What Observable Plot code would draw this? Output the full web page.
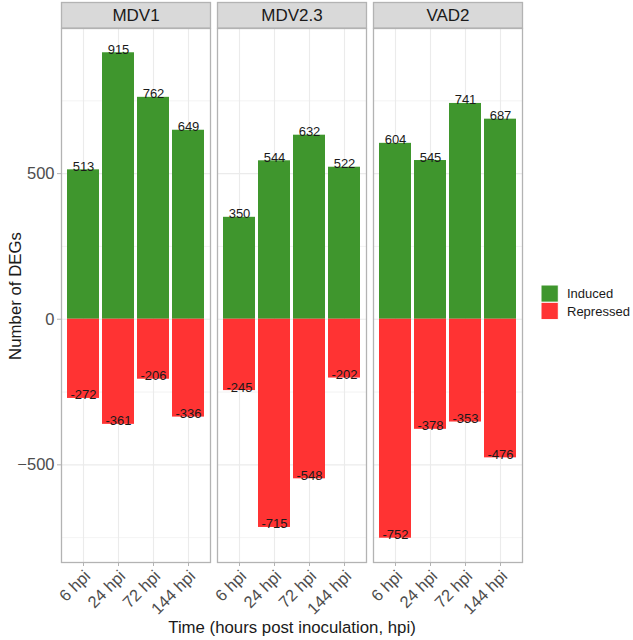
<!DOCTYPE html>
<html>
<head>
<meta charset="utf-8">
<script src="https://cdn.jsdelivr.net/npm/d3@7"></script>
<script src="https://cdn.jsdelivr.net/npm/@observablehq/plot@0.6"></script>
<style>
  html, body { margin: 0; padding: 0; background: #fff; }
  #chart { width: 633px; height: 640px; }
  #chart svg { font-family: "Liberation Sans", Arial, sans-serif; }
</style>
</head>
<body>
<div id="chart"></div>
<script>
// Differentially expressed genes per virus and time point
const viruses = ["MDV1", "MDV2.3", "VAD2"];
const times = ["6 hpi", "24 hpi", "72 hpi", "144 hpi"];
const regulation = ["Induced", "Repressed"];
const regulationColors = ["#3f962d", "#ff3333"];

const inducedMDV1 = [513, 915, 762, 649];
const inducedMDV23 = [350, 544, 632, 522];
const inducedVAD2 = [604, 545, 741, 687];

const repressedMDV1 = [-272, -361, -206, -336];
const repressedMDV23 = [-245, -715, -548, -202];
const repressedVAD2 = [-752, -378, -353, -476];

const yTicks = [-500, 0, 500];
const yMinorTicks = [-750, -250, 250, 750];

const induced = [inducedMDV1, inducedMDV23, inducedVAD2];
const repressed = [repressedMDV1, repressedMDV23, repressedVAD2];

const rows = [];
viruses.forEach((virus, i) => {
  times.forEach((time, j) => {
    rows.push({virus, time, type: "Induced", value: induced[i][j]});
    rows.push({virus, time, type: "Repressed", value: repressed[i][j]});
  });
});

// y extent padded by 5% on each side
const [lo, hi] = d3.extent(rows, d => d.value);
const pad = (hi - lo) * 0.05;

const gridColor = "#ebebeb";
const borderColor = "#b3b3b3";
const textColor = "#4d4d4d";

const plot = Plot.plot({
  width: 633,
  height: 640,
  marginLeft: 61,
  marginRight: 111,
  marginTop: 28,
  marginBottom: 78,
  style: {fontFamily: "Liberation Sans, Arial, sans-serif", background: "#fff"},
  fx: {domain: viruses, paddingInner: 0.045, paddingOuter: 0, axis: null, label: null},
  x: {domain: times, paddingInner: 0.1, paddingOuter: 0.15, label: null, axis: null},
  y: {domain: [lo - pad, hi + pad], label: null, axis: null},
  color: {domain: regulation, range: regulationColors},
  marks: [
    Plot.gridY({ticks: yMinorTicks, stroke: gridColor, strokeOpacity: 1, strokeWidth: 0.6}),
    Plot.gridY({ticks: yTicks, stroke: gridColor, strokeOpacity: 1, strokeWidth: 1.1}),
    Plot.gridX({stroke: gridColor, strokeOpacity: 1, strokeWidth: 1.1}),
    Plot.barY(rows, {fx: "virus", x: "time", y1: 0, y2: "value", fill: "type"}),
    Plot.text(rows, {
      fx: "virus", x: "time", y: "value", text: d => String(d.value),
      lineAnchor: "bottom", dy: 1, fontSize: 13, fill: "#1a1a1a"
    }),
    Plot.frame({stroke: borderColor, strokeWidth: 1.3}),
    Plot.axisY({
      ticks: yTicks, tickSize: 4, tickPadding: 3, fontSize: 16.5,
      stroke: borderColor, fill: textColor, label: null
    }),
    // x tick marks
    Plot.axisX({tickSize: 4, text: null, stroke: borderColor, label: null}),
    // x tick labels, rotated and hanging below the ticks
    Plot.axisX({
      tickSize: 0, tickPadding: 7, tickRotate: -45, fontSize: 16.5,
      dx: 4, dy: 4, fill: textColor, label: null
    })
  ]
});

document.getElementById("chart").append(plot);

const svg = d3.select(plot);
const svgBox = plot.getBoundingClientRect();

// Facet strips above each panel
const frameRects = plot.querySelectorAll('g[aria-label="frame"] rect');
const strips = svg.append("g").attr("aria-label", "strips");
frameRects.forEach((r, i) => {
  const b = r.getBoundingClientRect();
  const x = b.left - svgBox.left;
  const w = b.width;
  strips.append("rect")
    .attr("x", x).attr("y", 2.5)
    .attr("width", w).attr("height", 25.5)
    .attr("fill", "#d9d9d9")
    .attr("stroke", borderColor)
    .attr("stroke-width", 1.3);
  strips.append("text")
    .attr("x", x + w / 2).attr("y", 15.5)
    .attr("text-anchor", "middle")
    .attr("dominant-baseline", "central")
    .attr("font-size", 17)
    .attr("fill", "#1a1a1a")
    .text(viruses[i]);
});

// Axis titles
svg.append("text")
  .attr("transform", `translate(15, 296) rotate(-90)`)
  .attr("text-anchor", "middle")
  .attr("dominant-baseline", "central")
  .attr("font-size", 16.8)
  .attr("fill", "#1a1a1a")
  .text("Number of DEGs");

svg.append("text")
  .attr("x", 292).attr("y", 627)
  .attr("text-anchor", "middle")
  .attr("dominant-baseline", "central")
  .attr("font-size", 16.8)
  .attr("fill", "#1a1a1a")
  .text("Time (hours post inoculation, hpi)");

// Legend for the color scale
const colorScale = plot.scale("color");
const legend = svg.append("g").attr("aria-label", "legend")
  .attr("transform", "translate(541, 285)");
colorScale.domain.forEach((label, i) => {
  legend.append("rect")
    .attr("x", 0).attr("y", i * 17.3)
    .attr("width", 17.3).attr("height", 17.3)
    .attr("fill", colorScale.apply(label))
    .attr("stroke", "#fff").attr("stroke-width", 1);
  legend.append("text")
    .attr("x", 26).attr("y", i * 17.3 + 8.7)
    .attr("text-anchor", "start")
    .attr("dominant-baseline", "central")
    .attr("font-size", 13)
    .attr("fill", "#1a1a1a")
    .text(label);
});
</script>
</body>
</html>
